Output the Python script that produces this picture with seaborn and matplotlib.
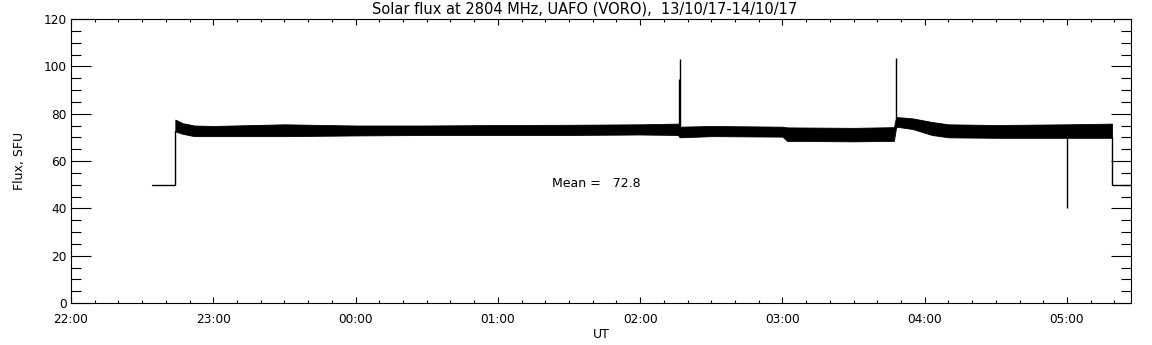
import matplotlib
matplotlib.use('Agg')
import matplotlib.pyplot as plt
import matplotlib.dates as mdates
import pandas as pd
import seaborn as sns

# Envelope of the noisy flux band (time UT, lower / upper edge in SFU)
band_time = ['22:44', '22:47', '22:52', '23:00', '23:30', '00:00', '00:30', '01:00',
             '01:30', '02:00', '02:16', '02:17', '02:30', '03:00', '03:02', '03:30',
             '03:47', '03:48', '03:55', '04:03', '04:10', '04:30', '05:00', '05:19']
band_low = [72.5, 71.5, 70.5, 70.5, 70.5, 70.8, 71.0, 71.0,
            71.0, 71.2, 71.0, 70.0, 70.5, 70.3, 68.5, 68.3,
            68.5, 74.5, 73.5, 71.0, 70.0, 69.8, 69.8, 69.8]
band_high = [77.5, 76.0, 75.0, 74.8, 75.5, 75.0, 75.0, 75.2,
             75.3, 75.5, 75.8, 74.5, 74.8, 74.5, 74.2, 74.0,
             74.3, 78.6, 78.0, 76.5, 75.5, 75.2, 75.5, 75.8]

# Baseline (50 SFU) before and after the observation
pre_time = ['22:34', '22:44', '22:44']
pre_flux = [50, 50, 72.5]
post_time = ['05:19', '05:19', '05:27']
post_flux = [70, 50, 50]

# Spikes
spike_time = ['02:16:36', '02:16:48', '03:48:00', '05:00:00']
spike_base = [70, 70, 74, 70]
spike_peak = [94.5, 103, 103.5, 40]

mean_flux = 72.8


def to_ts(t):
    day = '2017-10-13' if int(t[:2]) >= 22 else '2017-10-14'
    return pd.Timestamp(day + ' ' + t)


sns.set_style('ticks')
plt.rcParams['font.family'] = ['DejaVu Sans']
plt.rcParams['text.color'] = 'black'
plt.rcParams['axes.labelcolor'] = 'black'
plt.rcParams['xtick.color'] = 'black'
plt.rcParams['ytick.color'] = 'black'

fig = plt.figure(figsize=(11.52, 3.45), dpi=100)
ax = fig.add_axes([71 / 1152, 1 - 303 / 345, 1060 / 1152, 284 / 345])

bt = [to_ts(t) for t in band_time]
ax.fill_between(bt, band_low, band_high, color='black', lw=0.6)

pre = pd.DataFrame({'t': [to_ts(t) for t in pre_time], 'f': pre_flux})
post = pd.DataFrame({'t': [to_ts(t) for t in post_time], 'f': post_flux})
sns.lineplot(data=pre, x='t', y='f', sort=False, estimator=None, color='black', lw=1.0, ax=ax)
sns.lineplot(data=post, x='t', y='f', sort=False, estimator=None, color='black', lw=1.0, ax=ax)
ax.vlines([to_ts(t) for t in spike_time], spike_base, spike_peak, color='black', lw=1.0)

ax.text(to_ts('01:23'), 50.6, 'Mean =   %.1f' % mean_flux, fontsize=9, va='center', ha='left')

ax.set_xlim(to_ts('22:00'), to_ts('05:27'))
ax.set_ylim(0, 120)
ax.xaxis.set_major_locator(mdates.HourLocator())
ax.xaxis.set_minor_locator(mdates.MinuteLocator(byminute=range(10, 60, 10)))
ax.xaxis.set_major_formatter(mdates.DateFormatter('%H:%M'))
ax.yaxis.set_major_locator(plt.MultipleLocator(20))
ax.yaxis.set_minor_locator(plt.MultipleLocator(5))

ax.tick_params(axis='both', which='both', direction='in', top=True, right=True,
               labelsize=8.7, width=0.8, color='black')
ax.tick_params(axis='x', which='major', length=4.5, pad=7)
ax.tick_params(axis='x', which='minor', length=2)
ax.tick_params(axis='y', which='major', length=14.4, pad=3)
ax.tick_params(axis='y', which='minor', length=7.2)
for s in ax.spines.values():
    s.set_linewidth(0.8)
    s.set_color('black')

ax.set_xlabel('UT', fontsize=9, labelpad=2)
ax.set_ylabel('Flux, SFU', fontsize=9, labelpad=13)
fig.text(585 / 1152, 1 - 9 / 345, 'Solar flux at 2804 MHz, UAFO (VORO),  13/10/17-14/10/17',
         fontsize=10.5, ha='center', va='center')

fig.savefig('out.png', dpi=100)
